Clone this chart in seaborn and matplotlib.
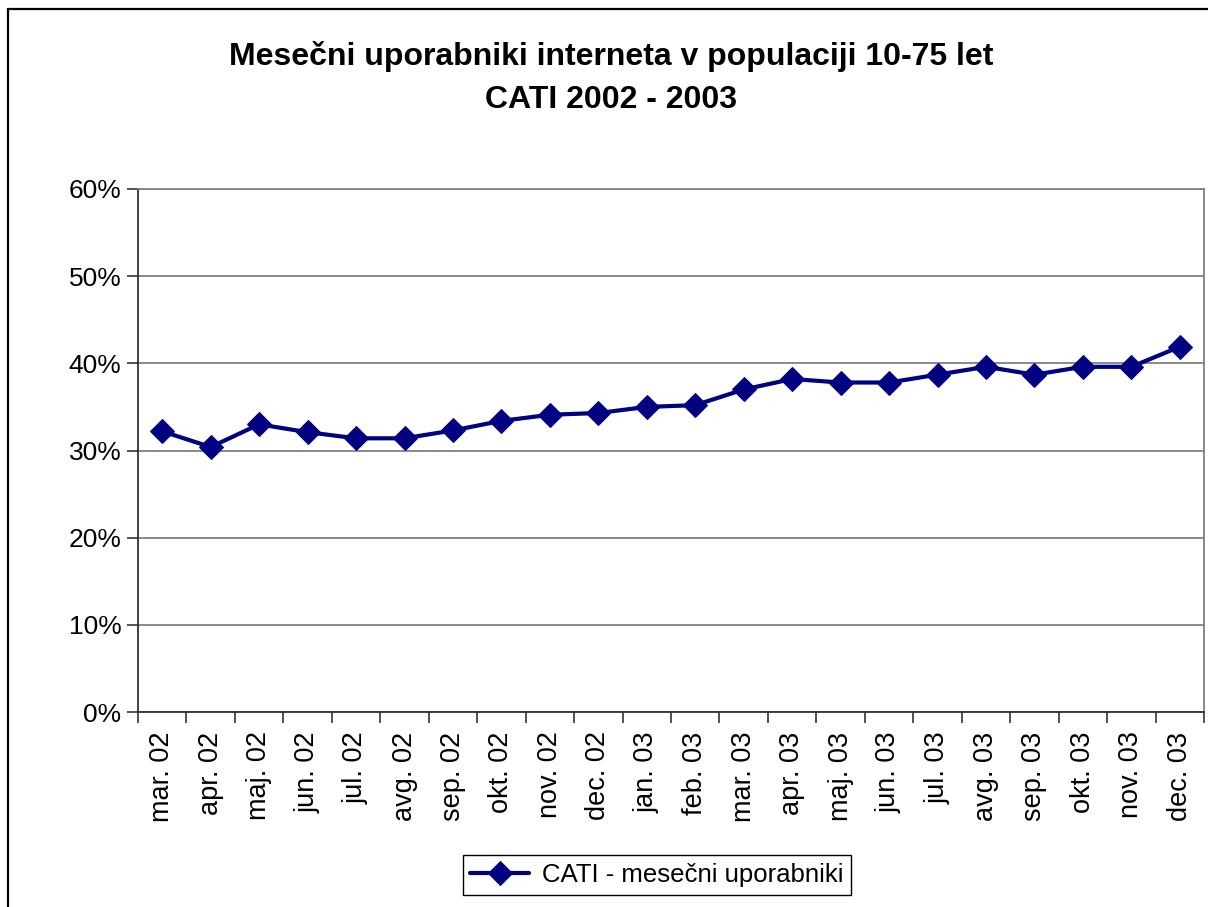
import matplotlib
matplotlib.use("Agg")
import matplotlib.pyplot as plt
import matplotlib.ticker as mticker
from matplotlib.lines import Line2D
import pandas as pd
import seaborn as sns

# monthly values (share of population, %)
months = ["mar. 02", "apr. 02", "maj. 02", "jun. 02", "jul. 02", "avg. 02",
          "sep. 02", "okt. 02", "nov. 02", "dec. 02", "jan. 03", "feb. 03",
          "mar. 03", "apr. 03", "maj. 03", "jun. 03", "jul. 03", "avg. 03",
          "sep. 03", "okt. 03", "nov. 03", "dec. 03"]
users = [32.2, 30.4, 33.0, 32.1, 31.4, 31.4, 32.3, 33.4, 34.1, 34.3, 35.0,
         35.2, 37.0, 38.2, 37.8, 37.8, 38.7, 39.6, 38.7, 39.6, 39.6, 41.9]
series_name = "CATI - mesečni uporabniki"

df = pd.DataFrame({"pos": range(len(months)), "val": users})

sns.set_style("white")
plt.rcParams["font.family"] = ["Liberation Sans", "DejaVu Sans"]
plt.rcParams["text.color"] = "black"
plt.rcParams["xtick.color"] = "black"
plt.rcParams["ytick.color"] = "black"

fig = plt.figure(figsize=(12.08, 9.07), dpi=100)
ax = fig.add_axes([138 / 1208, 1 - 712 / 907, (1204 - 138) / 1208, (712 - 189) / 907])

navy = "#000080"
sns.lineplot(data=df, x="pos", y="val", ax=ax, color=navy, linewidth=3,
             marker="D", markersize=12, markeredgecolor=navy, label=series_name)

ax.set_xlim(-0.5, len(months) - 0.5)
ax.set_ylim(0, 60)
ax.set_yticks(range(0, 61, 10))
ax.yaxis.set_major_formatter(mticker.FuncFormatter(lambda v, p: f"{v:.0f}%"))
ax.tick_params(axis="y", labelsize=19, length=8, width=1.2, color="#333333",
               labelcolor="black", direction="out", left=True, pad=4)

ax.set_xticks(range(len(months)))
ax.set_xticklabels(months, rotation=90, fontsize=19.5, color="black")
ax.set_xticks([i - 0.5 for i in range(len(months) + 1)], minor=True)
ax.tick_params(axis="x", which="major", length=0, pad=14)
ax.tick_params(axis="x", which="minor", length=8, width=1.2, color="#333333",
               direction="out", bottom=True)
ax.set_xlabel("")
ax.set_ylabel("")

ax.grid(axis="y", color="#808080", linewidth=1.3)
ax.set_axisbelow(True)
for side in ["left", "bottom"]:
    ax.spines[side].set_color("#333333")
    ax.spines[side].set_linewidth(1.3)
ax.spines["top"].set_color("#808080")
ax.spines["right"].set_color("#808080")
ax.spines["top"].set_linewidth(1.3)
ax.spines["right"].set_linewidth(1.3)

fig.text(611 / 1208, 1 - 57 / 907, "Mesečni uporabniki interneta v populaciji 10-75 let",
         ha="center", va="center", fontsize=23, fontweight="bold", color="black")
fig.text(611 / 1208, 1 - 100 / 907, "CATI 2002 - 2003",
         ha="center", va="center", fontsize=23, fontweight="bold", color="black")

leg = ax.legend(loc="center", bbox_to_anchor=(657 / 1208, 1 - 875 / 907),
                bbox_transform=fig.transFigure, fontsize=18.5, frameon=True,
                fancybox=False, edgecolor="black", handlelength=2.3,
                borderpad=0.3, framealpha=1, handletextpad=0.5)
for t in leg.get_texts():
    t.set_color("black")

# outer chart border (left and top only are visible)
fig.add_artist(Line2D([8 / 1208, 8 / 1208], [0, 1 - 9 / 907],
                      transform=fig.transFigure, color="black", linewidth=1.6))
fig.add_artist(Line2D([8 / 1208, 1], [1 - 9 / 907, 1 - 9 / 907],
                      transform=fig.transFigure, color="black", linewidth=1.6))

fig.savefig("out.png", dpi=100)
